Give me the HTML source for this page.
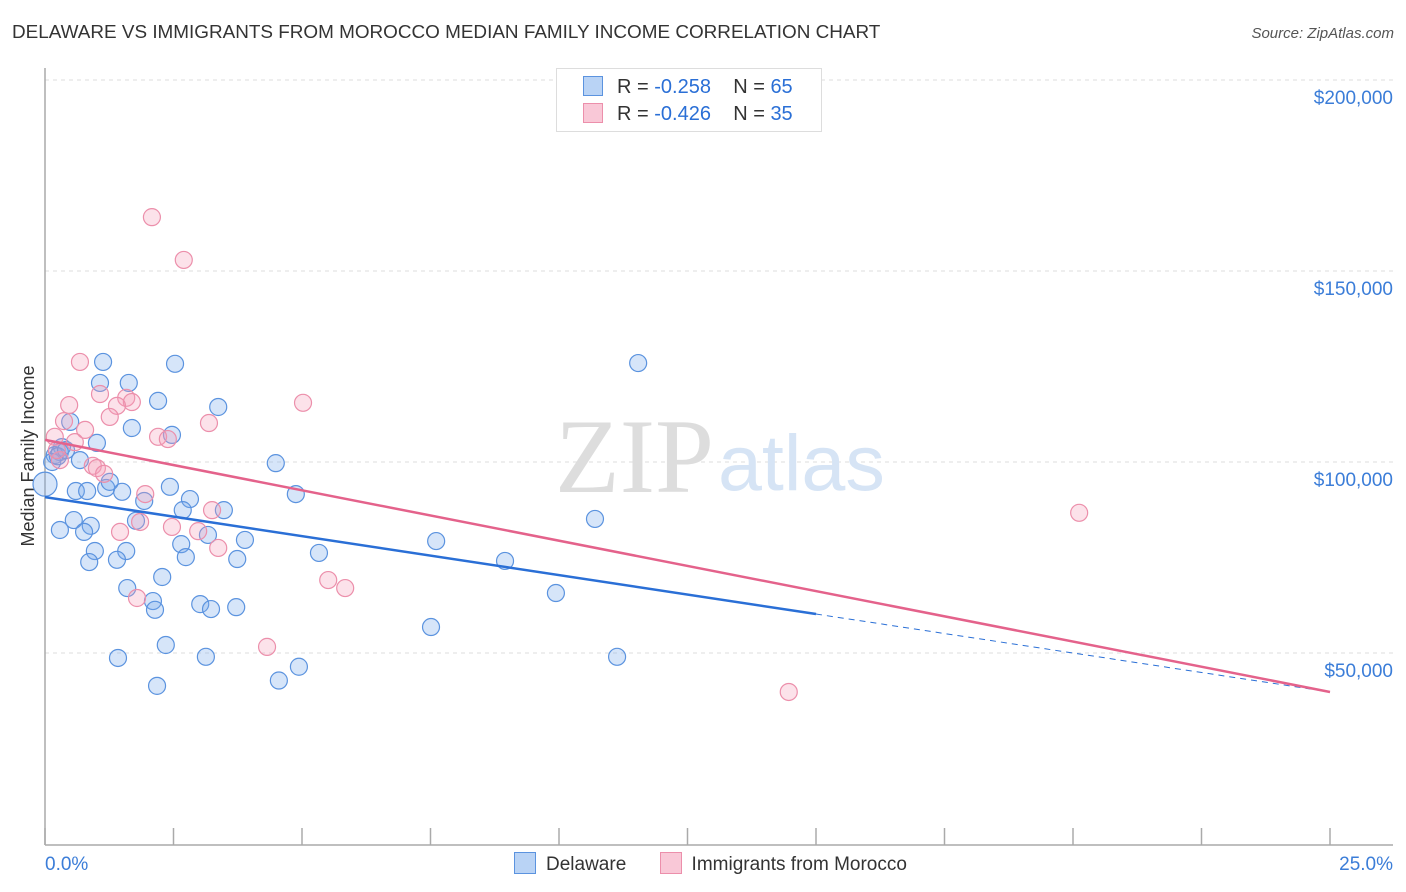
<!DOCTYPE html>
<html><head><meta charset="utf-8">
<style>
body{margin:0;background:#fff;font-family:"Liberation Sans",sans-serif;}
#wrap{position:relative;width:1406px;height:892px;overflow:hidden;}
.t{position:absolute;white-space:nowrap;}
</style></head>
<body>
<div id="wrap">
<div class="t" style="left:12px;top:22px;font-size:18.9px;color:#333;">DELAWARE VS IMMIGRANTS FROM MOROCCO MEDIAN FAMILY INCOME CORRELATION CHART</div>
<div class="t" style="right:12px;top:25px;font-size:15px;color:#555;font-style:italic;">Source: ZipAtlas.com</div>
<svg id="svg" width="1406" height="892" style="position:absolute;left:0;top:0"></svg>
</div>
<script>
const blueX=[1.13,2.53,11.54,1.07,1.63,2.20,3.37,0.49,1.69,2.47,1.01,0.33,0.29,0.19,0.14,0.68,4.49,0.0,0.60,0.82,1.19,1.50,1.26,2.43,2.82,1.93,2.68,3.48,4.88,0.56,0.29,0.89,0.76,1.77,3.17,2.65,3.89,0.97,1.58,5.33,7.61,10.70,2.74,0.86,1.40,3.74,8.95,2.28,1.60,2.10,2.14,3.02,3.23,3.72,9.94,7.51,2.35,1.42,3.13,11.13,4.94,4.55,2.18,0.25,0.41];
const blueY=[126200,125700,125900,120700,120700,116000,114400,110500,108900,107100,105000,103900,102600,101800,100000,100500,99700,94200,92400,92400,93200,92200,94800,93500,90300,89800,87400,87400,91600,84800,82200,83300,81700,84600,80900,78500,79600,76700,76700,76200,79300,85100,75100,73800,74400,74600,74100,69900,67000,63600,61300,62800,61500,62000,65700,56800,52100,48700,49000,49000,46400,42800,41400,101500,103100];
const pinkX=[2.08,2.70,0.68,1.07,5.02,0.47,1.58,1.69,1.40,1.26,0.37,3.19,0.78,0.19,2.20,2.39,0.58,0.29,0.93,1.01,1.15,1.95,0.23,3.25,1.85,1.46,2.47,2.98,3.37,5.51,5.84,1.79,4.32,20.12,14.47];
const pinkY=[164100,152900,126200,117800,115500,114900,116800,115700,114700,111800,110700,110200,108400,106600,106600,106000,105200,100500,99000,98400,96900,91600,103100,87400,84300,81700,83000,81900,77500,69100,67000,64400,51600,86700,39800];
const blueTrend=[90800,60200,39800]; // at 0%, 15%, 25%
const pinkTrend=[105800,39800]; // at 0%, 25%
const yTicks=[50000,100000,150000,200000];
const yTickLabels=["$50,000","$100,000","$150,000","$200,000"];
const xEnds=["0.0%","25.0%"];

const NS="http://www.w3.org/2000/svg";
const svg=document.getElementById('svg');
const xs=p=>45+p*51.4;
const ys=v=>844-v*191/50000;
function mk(tag,attrs,parent){const e=document.createElementNS(NS,tag);for(const k in attrs)e.setAttribute(k,attrs[k]);(parent||svg).appendChild(e);return e;}

yTicks.forEach((v,i)=>{
  const g=mk('line',{x1:45,x2:1393,y1:ys(v),y2:ys(v),stroke:'#ddd','stroke-dasharray':'4,4'});
  
  
  const t=mk('text',{x:1393,y:ys(v)+24,'text-anchor':'end','font-size':19,fill:'#3b7dd8','font-family':'Liberation Sans, sans-serif'});
  t.textContent=yTickLabels[i];
  
  
});
const w1=mk('text',{x:555,y:492,'font-size':106,fill:'#ddd','font-family':'Liberation Serif, serif'});w1.textContent='ZIP';


const w2=mk('text',{x:718,y:490,'font-size':79,fill:'#d6e4f5','font-family':'Liberation Sans, sans-serif'});w2.textContent='atlas';


const ya=mk('line',{x1:45,x2:45,y1:68,y2:845,stroke:'#aaa','stroke-width':1.5});


const xa=mk('line',{x1:45,x2:1393,y1:845,y2:845,stroke:'#aaa','stroke-width':1.5});


for(let i=0;i<=10;i++){
  const tk=mk('line',{x1:xs(i*2.5),x2:xs(i*2.5),y1:828,y2:845,stroke:'#aaa','stroke-width':1.5});
  
  
}
const xl0=mk('text',{x:45,y:870,'font-size':19,fill:'#3b7dd8','font-family':'Liberation Sans, sans-serif'});xl0.textContent=xEnds[0];


const xl1=mk('text',{x:1393,y:870,'text-anchor':'end','font-size':19,fill:'#3b7dd8','font-family':'Liberation Sans, sans-serif'});xl1.textContent=xEnds[1];


const yt=mk('text',{x:34,y:456,'text-anchor':'middle','font-size':18,fill:'#333','font-family':'Liberation Sans, sans-serif',transform:'rotate(-90 34 456)'});yt.textContent='Median Family Income';



blueX.forEach((x,i)=>{
  const c=mk('circle',{cx:xs(x),cy:ys(blueY[i]),r:x===0?12:8.5,fill:'rgba(120,170,235,0.3)',stroke:'#5b93df','stroke-width':1.2});
  
  
});
pinkX.forEach((x,i)=>{
  const c=mk('circle',{cx:xs(x),cy:ys(pinkY[i]),r:8.5,fill:'rgba(245,160,185,0.3)',stroke:'#ec8fab','stroke-width':1.2});
  
  
});
const bl=mk('line',{x1:xs(0),y1:ys(blueTrend[0]),x2:xs(15),y2:ys(blueTrend[1]),stroke:'#2a6fd6','stroke-width':2.5});


const bd=mk('line',{x1:xs(15),y1:ys(blueTrend[1]),x2:xs(25),y2:ys(blueTrend[2]),stroke:'#2a6fd6','stroke-width':1,'stroke-dasharray':'6,5'});


const pl=mk('line',{x1:xs(0),y1:ys(pinkTrend[0]),x2:xs(25),y2:ys(pinkTrend[1]),stroke:'#e4628b','stroke-width':2.5});


</script>
<div class="t" style="left:556px;top:68px;width:264px;height:62px;border:1px solid #ddd;background:#fff;font-size:20px;color:#333;">
  <div style="position:absolute;left:26px;top:7px;"><span style="display:inline-block;width:18px;height:18px;background:#b9d3f5;border:1px solid #5b93df;vertical-align:-3px;margin-right:14px"></span>R = <span style="color:#2a6fd6">-0.258</span>&nbsp;&nbsp;&nbsp; N = <span style="color:#2a6fd6">65</span></div>
  <div style="position:absolute;left:26px;top:34px;"><span style="display:inline-block;width:18px;height:18px;background:#f9c8d7;border:1px solid #ec8fab;vertical-align:-3px;margin-right:14px"></span>R = <span style="color:#2a6fd6">-0.426</span>&nbsp;&nbsp;&nbsp; N = <span style="color:#2a6fd6">35</span></div>
</div>
<div class="t" style="left:514px;top:852px;font-size:19px;color:#333;">
  <span><span style="display:inline-block;width:20px;height:20px;background:#b9d3f5;border:1px solid #5b93df;vertical-align:-4px;margin-right:10px"></span>Delaware</span>
  <span style="margin-left:28px"><span style="display:inline-block;width:20px;height:20px;background:#f9c8d7;border:1px solid #ec8fab;vertical-align:-4px;margin-right:10px"></span>Immigrants from Morocco</span>
</div>
</body></html>
